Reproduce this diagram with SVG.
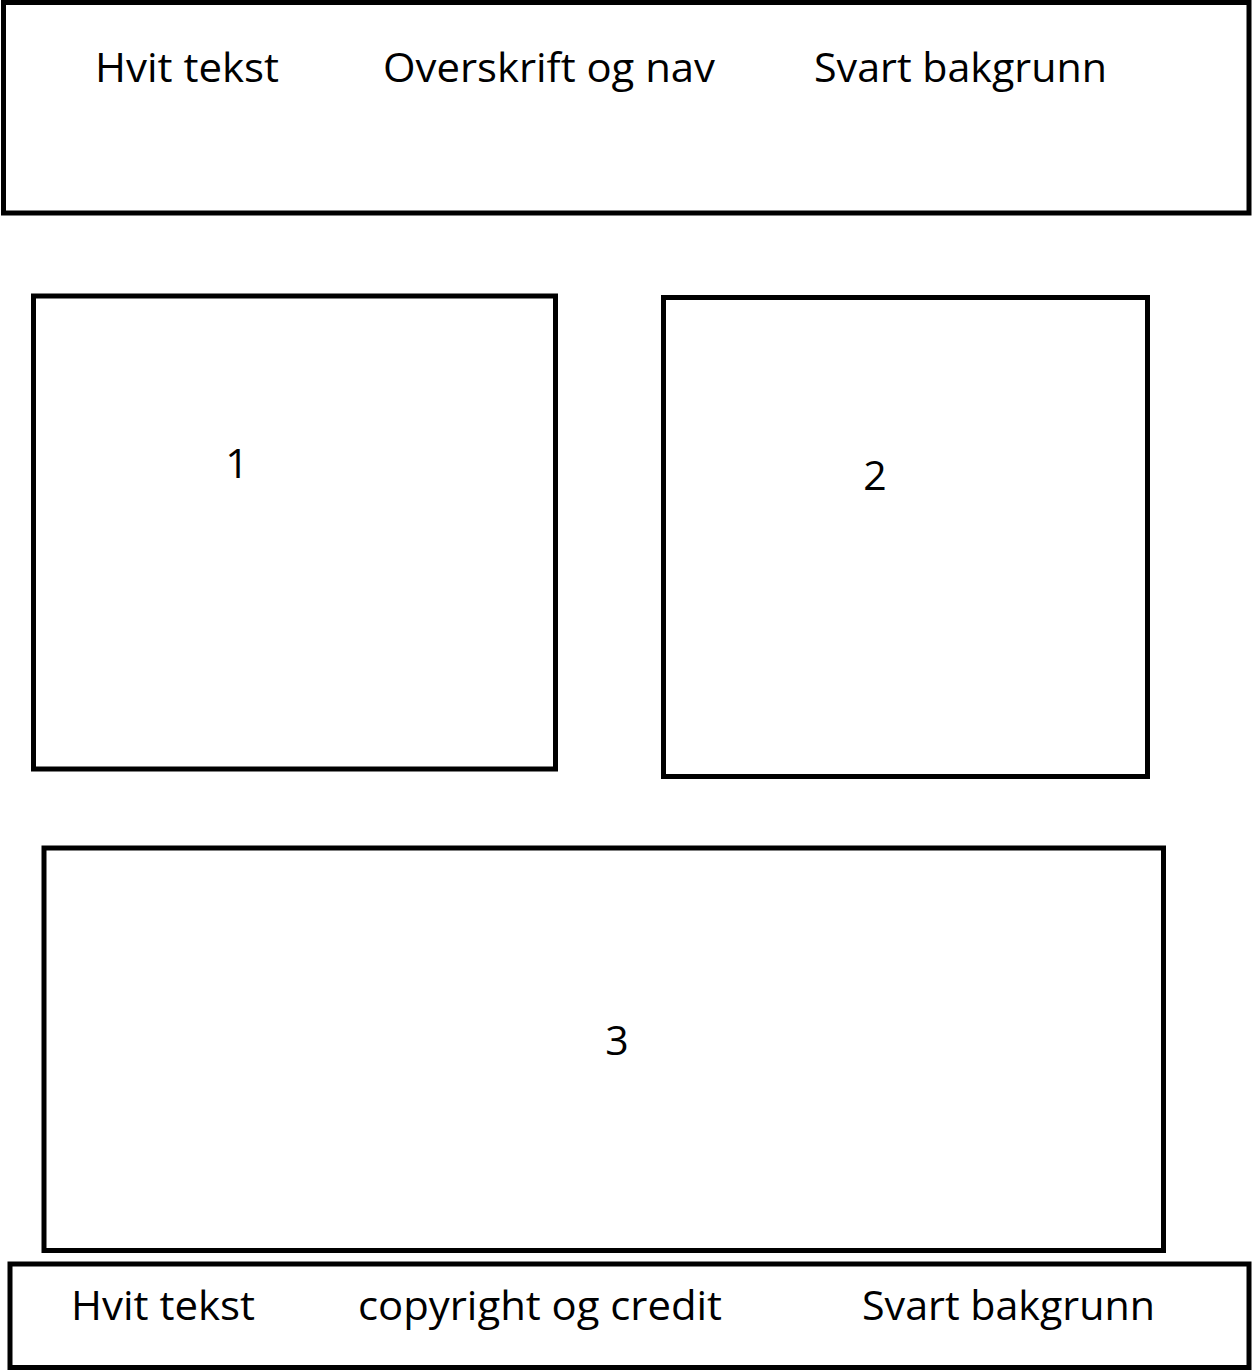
<svg xmlns="http://www.w3.org/2000/svg" width="1252" height="1370" viewBox="0 0 1252 1370">
<style>
.box{fill:#fff;stroke:#000;stroke-width:5}
.t{font-family:"Open Sans","Liberation Sans",sans-serif;font-size:41px;fill:#000}
</style>
<rect width="1252" height="1370" fill="#fff"/>
<g id="header">
<rect class="box" x="3.5" y="2.5" width="1245.5" height="210.5"/>
<text class="t" x="95" y="82" textLength="184" lengthAdjust="spacingAndGlyphs">Hvit tekst</text>
<text class="t" x="383" y="82" textLength="332" lengthAdjust="spacingAndGlyphs">Overskrift og nav</text>
<text class="t" x="814" y="82" textLength="293" lengthAdjust="spacingAndGlyphs">Svart bakgrunn</text>
</g>
<g id="box1">
<rect class="box" x="33.5" y="296" width="522" height="473"/>
<text class="t" x="237" y="478" text-anchor="middle">1</text>
</g>
<g id="box2">
<rect class="box" x="663.5" y="297.5" width="484" height="479"/>
<text class="t" x="875" y="490" text-anchor="middle">2</text>
</g>
<g id="box3">
<rect class="box" x="44" y="848" width="1119.5" height="402.5"/>
<text class="t" x="617" y="1055" text-anchor="middle">3</text>
</g>
<g id="footer">
<rect class="box" x="10" y="1264" width="1239" height="103.5"/>
<text class="t" x="71" y="1320" textLength="184" lengthAdjust="spacingAndGlyphs">Hvit tekst</text>
<text class="t" x="358" y="1320" textLength="364" lengthAdjust="spacingAndGlyphs">copyright og credit</text>
<text class="t" x="862" y="1320" textLength="293" lengthAdjust="spacingAndGlyphs">Svart bakgrunn</text>
</g>
<g id="connectors"/>
</svg>
